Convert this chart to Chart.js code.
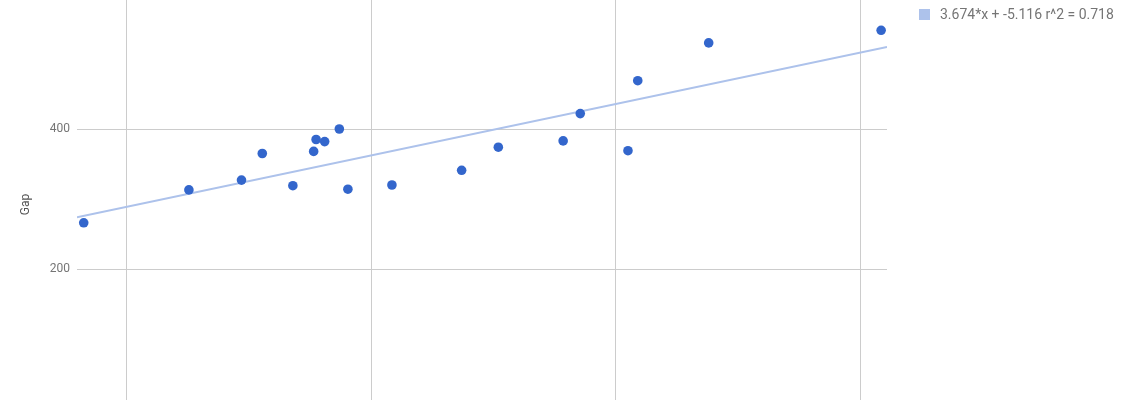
<!DOCTYPE html>
<html>
<head>
<meta charset="utf-8">
<script src="https://cdn.jsdelivr.net/npm/chart.js@4"></script>
<style>
  html, body { margin: 0; padding: 0; background: #fff; overflow: hidden; }
  #wrap { position: relative; width: 1126px; height: 400px; overflow: hidden; }
  #legend { position: absolute; left: 919px; top: 6px; font: 14px Roboto, sans-serif; color: #757575; line-height: 17px; white-space: nowrap; }
  #legend .box { position: absolute; left: 0; top: 3px; width: 11px; height: 11px; background: #adc2eb; }
  #legend .txt { position: absolute; left: 21px; top: 0; }
</style>
</head>
<body>
<div id="wrap">
  <canvas id="chart" width="1126" height="409"></canvas>
  <div id="legend"><span class="box"></span><span class="txt">3.674*x + -5.116 r^2 = 0.718</span></div>
</div>
<script>
const xValues = [76.5, 85.1, 89.4, 91.1, 93.6, 95.3, 95.5, 96.2, 97.4, 98.1, 101.7, 107.4, 110.4, 115.7, 117.1, 121.0, 121.8, 127.6, 141.7];
const gapValues = [266, 313, 327, 365, 319, 368, 385, 382, 400, 314, 320, 341, 374, 383, 422, 369, 469, 523, 541];
const yTicks = [200, 400];

// trendline from the legend: y = slope * x + intercept
const slope = 3.674;
const intercept = -5.116;
const xMin = 75.95;
const xMax = 142.18;
const trendX = [xMin, xMax];

const points = xValues.map((x, i) => ({ x: x, y: gapValues[i] }));
const trend = trendX.map(x => ({ x: x, y: slope * x + intercept }));

const ctx = document.getElementById('chart');

function noPad(s) {
  s.paddingTop = 0;
  s.paddingBottom = 0;
  s.paddingLeft = 0;
  s.paddingRight = 0;
}

let chart = new Chart(ctx, {
  type: 'scatter',
  data: {
    datasets: [{
      label: 'Gap',
      data: points,
      backgroundColor: '#3366cc',
      borderWidth: 0,
      pointRadius: 4.8,
      pointHoverRadius: 4.8,
      order: 1,
    }, {
      label: 'trend',
      data: trend,
      showLine: true,
      borderColor: '#adc2eb',
      borderWidth: 2,
      pointRadius: 0,
      fill: false,
      order: 2,
    }]
  },
  options: {
    responsive: false,
    animation: false,
    layout: { autoPadding: false, padding: { left: 0, right: 239, top: 0, bottom: 0 } },
    plugins: { legend: { display: false }, tooltip: { enabled: false } },
    scales: {
      x: {
        type: 'linear',
        min: xMin,
        max: xMax,
        border: { display: false },
        grid: { color: '#cccccc', drawTicks: false },
        ticks: { display: false, stepSize: 20, includeBounds: false },
        afterFit: s => { s.height = 0; noPad(s); },
      },
      y: {
        type: 'linear',
        min: 0,
        max: 584.3,
        border: { display: false },
        grid: { color: '#cccccc', drawTicks: false },
        afterBuildTicks: s => { s.ticks = yTicks.map(v => ({ value: v })); },
        ticks: {
          padding: 7,
          color: '#757575',
          font: { family: 'Roboto', size: 12 },
        },
        title: {
          display: true,
          text: 'Gap',
          color: '#555555',
          font: { family: 'Roboto', size: 12 },
          padding: { top: 19, bottom: 0 },
        },
        afterFit: s => { s.width = 77; noPad(s); },
      }
    }
  }
});
</script>
</body>
</html>
